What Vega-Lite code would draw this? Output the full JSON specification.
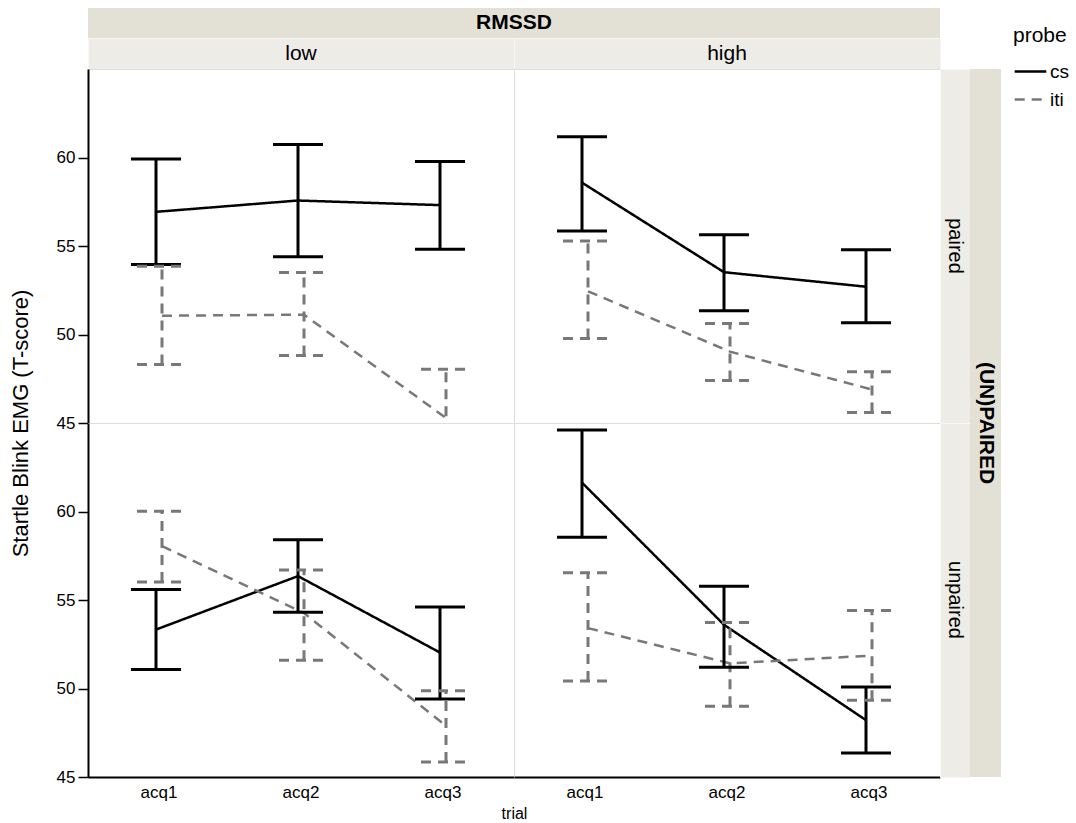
{
  "$schema": "https://vega.github.io/schema/vega-lite/v6.json",
  "padding": {"left": 8, "top": 8, "right": 4, "bottom": 4},
  "datasets": {
    "emg": [
      {"rmssd": "low", "pair": "paired", "trial": "acq1", "probe": "cs", "mean": 56.93, "lo": 53.95, "hi": 59.92},
      {"rmssd": "low", "pair": "paired", "trial": "acq2", "probe": "cs", "mean": 57.57, "lo": 54.39, "hi": 60.74},
      {"rmssd": "low", "pair": "paired", "trial": "acq3", "probe": "cs", "mean": 57.31, "lo": 54.81, "hi": 59.77},
      {"rmssd": "low", "pair": "paired", "trial": "acq1", "probe": "iti", "mean": 51.06, "lo": 48.31, "hi": 53.86},
      {"rmssd": "low", "pair": "paired", "trial": "acq2", "probe": "iti", "mean": 51.12, "lo": 48.81, "hi": 53.5},
      {"rmssd": "low", "pair": "paired", "trial": "acq3", "probe": "iti", "mean": 45.28, "lo": 42.5, "hi": 48.03},
      {"rmssd": "high", "pair": "paired", "trial": "acq1", "probe": "cs", "mean": 58.58, "lo": 55.85, "hi": 61.17},
      {"rmssd": "high", "pair": "paired", "trial": "acq2", "probe": "cs", "mean": 53.52, "lo": 51.34, "hi": 55.64},
      {"rmssd": "high", "pair": "paired", "trial": "acq3", "probe": "cs", "mean": 52.7, "lo": 50.66, "hi": 54.79},
      {"rmssd": "high", "pair": "paired", "trial": "acq1", "probe": "iti", "mean": 52.44, "lo": 49.77, "hi": 55.28},
      {"rmssd": "high", "pair": "paired", "trial": "acq2", "probe": "iti", "mean": 49.03, "lo": 47.4, "hi": 50.62},
      {"rmssd": "high", "pair": "paired", "trial": "acq3", "probe": "iti", "mean": 46.89, "lo": 45.59, "hi": 47.9},
      {"rmssd": "low", "pair": "unpaired", "trial": "acq1", "probe": "cs", "mean": 53.33, "lo": 51.08, "hi": 55.6},
      {"rmssd": "low", "pair": "unpaired", "trial": "acq2", "probe": "cs", "mean": 56.35, "lo": 54.31, "hi": 58.4},
      {"rmssd": "low", "pair": "unpaired", "trial": "acq3", "probe": "cs", "mean": 52.03, "lo": 49.4, "hi": 54.6},
      {"rmssd": "low", "pair": "unpaired", "trial": "acq1", "probe": "iti", "mean": 58.04, "lo": 56.01, "hi": 60.02},
      {"rmssd": "low", "pair": "unpaired", "trial": "acq2", "probe": "iti", "mean": 54.26, "lo": 51.6, "hi": 56.7},
      {"rmssd": "low", "pair": "unpaired", "trial": "acq3", "probe": "iti", "mean": 47.89, "lo": 45.85, "hi": 49.87},
      {"rmssd": "high", "pair": "unpaired", "trial": "acq1", "probe": "cs", "mean": 61.63, "lo": 58.55, "hi": 64.61},
      {"rmssd": "high", "pair": "unpaired", "trial": "acq2", "probe": "cs", "mean": 53.6, "lo": 51.2, "hi": 55.77},
      {"rmssd": "high", "pair": "unpaired", "trial": "acq3", "probe": "cs", "mean": 48.21, "lo": 46.36, "hi": 50.08},
      {"rmssd": "high", "pair": "unpaired", "trial": "acq1", "probe": "iti", "mean": 53.41, "lo": 50.42, "hi": 56.54},
      {"rmssd": "high", "pair": "unpaired", "trial": "acq2", "probe": "iti", "mean": 51.42, "lo": 49.0, "hi": 53.73},
      {"rmssd": "high", "pair": "unpaired", "trial": "acq3", "probe": "iti", "mean": 51.86, "lo": 49.34, "hi": 54.41}
    ]
  },
  "columns": 4,
  "spacing": 0,
  "bounds": "flush",
  "concat": [
    {
      "width": 426, "height": 30,
      "view": {"fill": "#e3e1d6", "stroke": null},
      "data": {"values": []},
      "mark": {"type": "text"},
      "encoding": {}
    },
    {
      "width": 426, "height": 30,
      "view": {"fill": "#e3e1d6", "stroke": null},
      "data": {"values": [{"t": "RMSSD"}]},
      "mark": {"type": "text", "fontSize": 21, "fontWeight": "bold", "color": "#000", "align": "center"},
      "encoding": {
        "text": {"field": "t"},
        "x": {"datum": 0, "type": "quantitative", "scale": {"domain": [0, 1], "nice": false}, "axis": null}
      }
    },
    {
      "width": 30, "height": 30,
      "view": {"stroke": null},
      "data": {"values": []},
      "mark": {"type": "text"},
      "encoding": {}
    },
    {
      "width": 31, "height": 30,
      "view": {"stroke": null},
      "data": {"values": []},
      "mark": {"type": "text"},
      "encoding": {}
    },
    {
      "width": 426, "height": 31,
      "view": {"fill": "#eeece6", "stroke": "#f8f7f3"},
      "data": {"values": [{"t": "low"}]},
      "mark": {"type": "text", "fontSize": 21, "color": "#000"},
      "encoding": {"text": {"field": "t"}}
    },
    {
      "width": 426, "height": 31,
      "view": {"fill": "#eeece6", "stroke": "#f8f7f3"},
      "data": {"values": [{"t": "high"}]},
      "mark": {"type": "text", "fontSize": 21, "color": "#000"},
      "encoding": {"text": {"field": "t"}}
    },
    {
      "width": 30, "height": 31,
      "view": {"stroke": null},
      "data": {"values": []},
      "mark": {"type": "text"},
      "encoding": {}
    },
    {
      "width": 31, "height": 31,
      "view": {"stroke": null},
      "data": {"values": []},
      "mark": {"type": "text"},
      "encoding": {}
    },
    {
      "width": 426, "height": 354,
      "view": {"stroke": "#dddddd", "fill": "white"},
      "data": {"name": "emg"},
      "transform": [{"filter": "datum.rmssd === 'low' && datum.pair === 'paired'"}],
      "encoding": {
        "x": {"field": "trial", "type": "nominal", "scale": {"type": "band", "domain": ["acq1", "acq2", "acq3"], "paddingInner": 0, "paddingOuter": 0}, "axis": null},
        "xOffset": {"field": "probe", "type": "nominal", "scale": {"type": "point", "domain": ["cs", "iti"], "range": [68, 74], "padding": 0}},
        "color": {"field": "probe", "type": "nominal", "scale": {"domain": ["cs", "iti"], "range": ["#000000", "#787878"]}, "legend": {"title": "probe"}},
        "strokeDash": {"field": "probe", "type": "nominal", "scale": {"domain": ["cs", "iti"], "range": [[1, 0], [10, 7]]}, "legend": {"title": "probe"}}
      },
      "layer": [
        {"mark": {"type": "line", "strokeWidth": 2.5, "clip": true},
         "encoding": {"y": {"field": "mean", "type": "quantitative", "scale": {"domain": [45, 65], "nice": false, "zero": false}, "axis": {"values": [45, 50, 55, 60], "title": "Startle Blink EMG (T-score)", "titleX": -56, "titleY": 354}}}},
        {"mark": {"type": "rule", "strokeWidth": 3, "clip": true},
         "encoding": {"y": {"field": "lo", "type": "quantitative", "axis": {"values": [45, 50, 55, 60], "title": "Startle Blink EMG (T-score)", "titleX": -56, "titleY": 354}}, "y2": {"field": "hi"}}},
        {"mark": {"type": "point", "shape": "M-1,0L1,0", "size": 2500, "strokeWidth": 3, "filled": false, "opacity": 1, "clip": true},
         "encoding": {"y": {"field": "lo", "type": "quantitative", "axis": {"values": [45, 50, 55, 60], "title": "Startle Blink EMG (T-score)", "titleX": -56, "titleY": 354}}}},
        {"mark": {"type": "point", "shape": "M-1,0L1,0", "size": 2500, "strokeWidth": 3, "filled": false, "opacity": 1, "clip": true},
         "encoding": {"y": {"field": "hi", "type": "quantitative", "axis": {"values": [45, 50, 55, 60], "title": "Startle Blink EMG (T-score)", "titleX": -56, "titleY": 354}}}}
      ]
    },
    {
      "width": 426, "height": 354,
      "view": {"stroke": "#dddddd", "fill": "white"},
      "data": {"name": "emg"},
      "transform": [{"filter": "datum.rmssd === 'high' && datum.pair === 'paired'"}],
      "encoding": {
        "x": {"field": "trial", "type": "nominal", "scale": {"type": "band", "domain": ["acq1", "acq2", "acq3"], "paddingInner": 0, "paddingOuter": 0}, "axis": null},
        "xOffset": {"field": "probe", "type": "nominal", "scale": {"type": "point", "domain": ["cs", "iti"], "range": [68, 74], "padding": 0}},
        "color": {"field": "probe", "type": "nominal", "scale": {"domain": ["cs", "iti"], "range": ["#000000", "#787878"]}, "legend": {"title": "probe"}},
        "strokeDash": {"field": "probe", "type": "nominal", "scale": {"domain": ["cs", "iti"], "range": [[1, 0], [10, 7]]}, "legend": {"title": "probe"}}
      },
      "layer": [
        {"mark": {"type": "line", "strokeWidth": 2.5, "clip": true},
         "encoding": {"y": {"field": "mean", "type": "quantitative", "scale": {"domain": [45, 65], "nice": false, "zero": false}, "axis": null}}},
        {"mark": {"type": "rule", "strokeWidth": 3, "clip": true},
         "encoding": {"y": {"field": "lo", "type": "quantitative", "axis": null}, "y2": {"field": "hi"}}},
        {"mark": {"type": "point", "shape": "M-1,0L1,0", "size": 2500, "strokeWidth": 3, "filled": false, "opacity": 1, "clip": true},
         "encoding": {"y": {"field": "lo", "type": "quantitative", "axis": null}}},
        {"mark": {"type": "point", "shape": "M-1,0L1,0", "size": 2500, "strokeWidth": 3, "filled": false, "opacity": 1, "clip": true},
         "encoding": {"y": {"field": "hi", "type": "quantitative", "axis": null}}}
      ]
    },
    {
      "width": 30, "height": 354,
      "view": {"fill": "#eeece6", "stroke": "#f8f7f3"},
      "data": {"values": [{"t": "paired"}]},
      "mark": {"type": "text", "fontSize": 20, "angle": 90, "color": "#000"},
      "encoding": {"text": {"field": "t"}}
    },
    {
      "width": 31, "height": 354,
      "view": {"fill": "#e3e1d6", "stroke": null},
      "data": {"values": []},
      "mark": {"type": "text"},
      "encoding": {}
    },
    {
      "width": 426, "height": 354,
      "view": {"stroke": "#dddddd", "fill": "white"},
      "data": {"name": "emg"},
      "transform": [{"filter": "datum.rmssd === 'low' && datum.pair === 'unpaired'"}],
      "encoding": {
        "x": {"field": "trial", "type": "nominal", "scale": {"type": "band", "domain": ["acq1", "acq2", "acq3"], "paddingInner": 0, "paddingOuter": 0}, "axis": {"title": "trial", "titleX": 426, "titleY": 28}},
        "xOffset": {"field": "probe", "type": "nominal", "scale": {"type": "point", "domain": ["cs", "iti"], "range": [68, 74], "padding": 0}},
        "color": {"field": "probe", "type": "nominal", "scale": {"domain": ["cs", "iti"], "range": ["#000000", "#787878"]}, "legend": {"title": "probe"}},
        "strokeDash": {"field": "probe", "type": "nominal", "scale": {"domain": ["cs", "iti"], "range": [[1, 0], [10, 7]]}, "legend": {"title": "probe"}}
      },
      "layer": [
        {"mark": {"type": "line", "strokeWidth": 2.5, "clip": true},
         "encoding": {"y": {"field": "mean", "type": "quantitative", "scale": {"domain": [45, 65], "nice": false, "zero": false}, "axis": {"values": [45, 50, 55, 60], "title": null}}}},
        {"mark": {"type": "rule", "strokeWidth": 3, "clip": true},
         "encoding": {"y": {"field": "lo", "type": "quantitative", "axis": {"values": [45, 50, 55, 60], "title": null}}, "y2": {"field": "hi"}}},
        {"mark": {"type": "point", "shape": "M-1,0L1,0", "size": 2500, "strokeWidth": 3, "filled": false, "opacity": 1, "clip": true},
         "encoding": {"y": {"field": "lo", "type": "quantitative", "axis": {"values": [45, 50, 55, 60], "title": null}}}},
        {"mark": {"type": "point", "shape": "M-1,0L1,0", "size": 2500, "strokeWidth": 3, "filled": false, "opacity": 1, "clip": true},
         "encoding": {"y": {"field": "hi", "type": "quantitative", "axis": {"values": [45, 50, 55, 60], "title": null}}}}
      ]
    },
    {
      "width": 426, "height": 354,
      "view": {"stroke": "#dddddd", "fill": "white"},
      "data": {"name": "emg"},
      "transform": [{"filter": "datum.rmssd === 'high' && datum.pair === 'unpaired'"}],
      "encoding": {
        "x": {"field": "trial", "type": "nominal", "scale": {"type": "band", "domain": ["acq1", "acq2", "acq3"], "paddingInner": 0, "paddingOuter": 0}, "axis": {"title": null}},
        "xOffset": {"field": "probe", "type": "nominal", "scale": {"type": "point", "domain": ["cs", "iti"], "range": [68, 74], "padding": 0}},
        "color": {"field": "probe", "type": "nominal", "scale": {"domain": ["cs", "iti"], "range": ["#000000", "#787878"]}, "legend": {"title": "probe"}},
        "strokeDash": {"field": "probe", "type": "nominal", "scale": {"domain": ["cs", "iti"], "range": [[1, 0], [10, 7]]}, "legend": {"title": "probe"}}
      },
      "layer": [
        {"mark": {"type": "line", "strokeWidth": 2.5, "clip": true},
         "encoding": {"y": {"field": "mean", "type": "quantitative", "scale": {"domain": [45, 65], "nice": false, "zero": false}, "axis": null}}},
        {"mark": {"type": "rule", "strokeWidth": 3, "clip": true},
         "encoding": {"y": {"field": "lo", "type": "quantitative", "axis": null}, "y2": {"field": "hi"}}},
        {"mark": {"type": "point", "shape": "M-1,0L1,0", "size": 2500, "strokeWidth": 3, "filled": false, "opacity": 1, "clip": true},
         "encoding": {"y": {"field": "lo", "type": "quantitative", "axis": null}}},
        {"mark": {"type": "point", "shape": "M-1,0L1,0", "size": 2500, "strokeWidth": 3, "filled": false, "opacity": 1, "clip": true},
         "encoding": {"y": {"field": "hi", "type": "quantitative", "axis": null}}}
      ]
    },
    {
      "width": 30, "height": 354,
      "view": {"fill": "#eeece6", "stroke": "#f8f7f3"},
      "data": {"values": [{"t": "unpaired"}]},
      "mark": {"type": "text", "fontSize": 20, "angle": 90, "color": "#000"},
      "encoding": {"text": {"field": "t"}}
    },
    {
      "width": 31, "height": 354,
      "view": {"fill": "#e3e1d6", "stroke": null},
      "data": {"values": [{"t": "(UN)PAIRED"}]},
      "mark": {"type": "text", "fontSize": 21, "fontWeight": "bold", "angle": 90, "color": "#000", "align": "center"},
      "encoding": {
        "text": {"field": "t"},
        "y": {"datum": 0, "type": "quantitative", "scale": {"domain": [0, 1], "nice": false, "reverse": true}, "axis": null}
      }
    }
  ],
  "config": {
    "font": "Liberation Sans",
    "view": {"stroke": null},
    "axis": {"labelColor": "#000", "titleColor": "#000", "domainColor": "#000", "tickColor": "#000", "grid": false, "labelFont": "Liberation Sans", "titleFont": "Liberation Sans"},
    "axisY": {"labelFontSize": 17, "tickSize": 10, "labelPadding": 3, "domainWidth": 2, "tickWidth": 1.5, "titleFontSize": 22, "titleFontWeight": "normal", "titlePadding": 24},
    "axisX": {"labelFontSize": 17, "ticks": false, "tickSize": 0, "labelPadding": 7, "domainWidth": 2, "titleFontSize": 16, "titleFontWeight": "normal", "labelAngle": 0},
    "legend": {"titleFontSize": 21, "titleFontWeight": "normal", "labelFontSize": 19, "symbolType": "stroke", "symbolSize": 1000, "symbolStrokeWidth": 2.5, "labelOffset": 2, "rowPadding": -2, "offset": -5, "padding": 17, "titlePadding": 8, "labelColor": "#000", "titleColor": "#000", "titleFont": "Liberation Sans", "labelFont": "Liberation Sans"}
  }
}
